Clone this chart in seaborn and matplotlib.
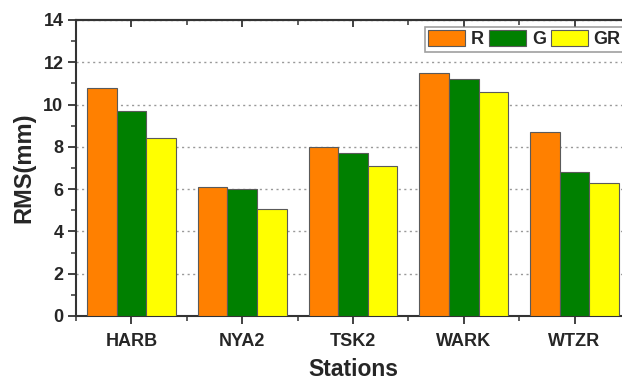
import numpy as np
import pandas as pd
import matplotlib
matplotlib.use("Agg")
import matplotlib.pyplot as plt
import seaborn as sns
from matplotlib.ticker import MultipleLocator, FixedLocator

stations = ["HARB", "NYA2", "TSK2", "WARK", "WTZR"]
series_names = ["R", "G", "GR"]
rms_r = [10.8, 6.1, 8.0, 11.5, 8.7]
rms_g = [9.7, 6.0, 7.7, 11.2, 6.8]
rms_gr = [8.4, 5.05, 7.1, 10.6, 6.3]
colors = ["#FF8000", "#008000", "#FFFF00"]

df = pd.DataFrame({
    "Station": stations * 3,
    "System": [s for s in series_names for _ in stations],
    "RMS": rms_r + rms_g + rms_gr,
})

sns.set_style("white")
plt.rcParams["font.family"] = ["Liberation Sans", "DejaVu Sans"]
plt.rcParams["font.weight"] = "bold"

fig = plt.figure(figsize=(6.22, 3.80), dpi=100)
ax = fig.add_axes([76 / 622, 1 - 316 / 380, (630 - 76) / 622, (316 - 20) / 380])

sns.barplot(data=df, x="Station", y="RMS", hue="System", order=stations,
            hue_order=series_names, palette=colors, saturation=1,
            width=0.8, edgecolor="#5a5a5a", linewidth=0.8, ax=ax, zorder=3)

ax.set_xlim(-0.5, 4.5)
ax.set_ylim(0, 14)
ax.yaxis.set_major_locator(MultipleLocator(2))
ax.yaxis.set_minor_locator(MultipleLocator(1))
ax.xaxis.set_minor_locator(FixedLocator(np.arange(-0.5, 5, 1.0)))

ax.grid(axis="y", which="major", linestyle=(0, (1.5, 2.5)), color="#999999",
        linewidth=1.0, zorder=0)
ax.set_axisbelow(True)

for side in ["left", "bottom", "top", "right"]:
    ax.spines[side].set_color("#333333")
    ax.spines[side].set_linewidth(1.5)

ax.tick_params(axis="both", which="major", direction="out", length=6, width=1.3,
               color="#333333", labelsize=13, pad=3)
ax.tick_params(axis="both", which="minor", direction="out", length=3.5, width=1.1,
               color="#333333")
ax.tick_params(axis="y", which="both", left=True)
ax.tick_params(axis="x", which="both", bottom=True)
ax.tick_params(axis="x", which="major", pad=6)
for lbl in ax.get_xticklabels() + ax.get_yticklabels():
    lbl.set_fontweight("bold")

top = ax.secondary_xaxis("top")
top.set_xticks(range(len(stations)))
top.xaxis.set_minor_locator(FixedLocator(np.arange(-0.5, 5, 1.0)))
top.tick_params(which="major", direction="in", length=5, width=1.3, color="#333333",
                labeltop=False)
top.tick_params(which="minor", direction="in", length=3.5, width=1.1, color="#333333")
top.spines["top"].set_linewidth(1.5)
top.spines["top"].set_color("#333333")

ax.set_xlabel("Stations", fontsize=16.5, fontweight="bold", labelpad=6)
ax.set_ylabel("RMS(mm)", fontsize=17, fontweight="bold", labelpad=6)

leg = ax.legend(loc="upper right", ncol=3, bbox_to_anchor=(0.99, 0.977),
                frameon=True, fancybox=False, edgecolor="#888888",
                prop={"weight": "bold", "size": 13}, handlelength=2.05,
                handleheight=0.95, handletextpad=0.3, columnspacing=0.3,
                borderpad=0.2, borderaxespad=0.0)
leg.get_frame().set_linewidth(1.2)

fig.savefig("out.png", dpi=100)
